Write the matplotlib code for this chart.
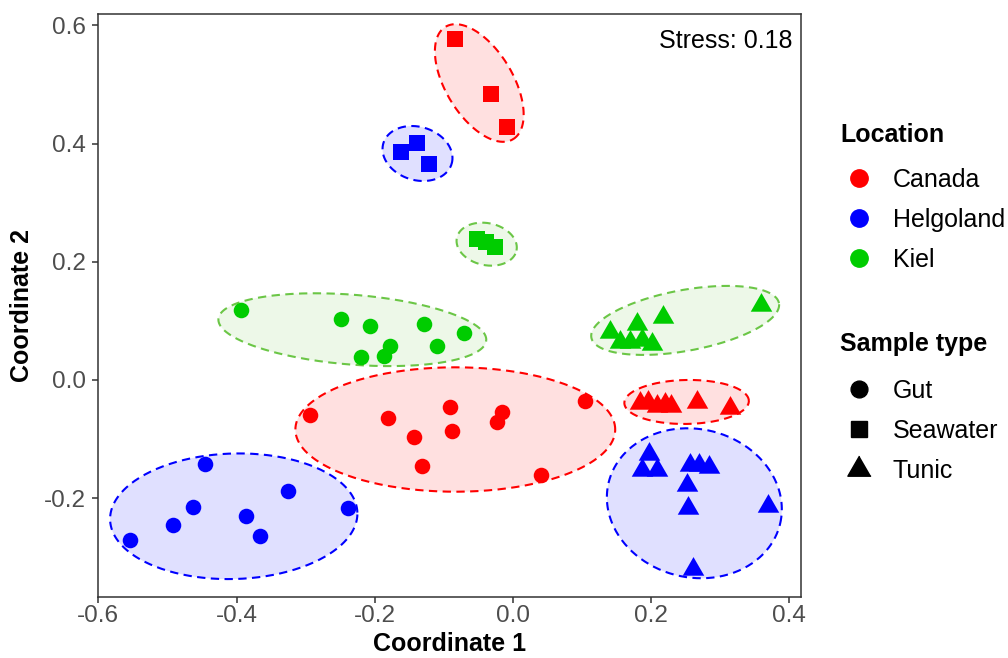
import numpy as np
import matplotlib
matplotlib.use("Agg")
import matplotlib.pyplot as plt
from matplotlib.lines import Line2D

plt.rcParams['font.family'] = ['Liberation Sans', 'DejaVu Sans']

# ---- data ----
locations = ["Canada", "Helgoland", "Kiel"]
sample_types = ["Gut", "Seawater", "Tunic"]

canada_gut_x = [-0.2936, -0.1805, -0.0910, -0.0152, -0.0237, -0.0889, -0.1427, -0.1317, 0.1048, 0.0401]
canada_gut_y = [-0.0587, -0.0638, -0.0452, -0.0547, -0.0716, -0.0863, -0.0970, -0.1450, -0.0360, -0.1602]
helgo_gut_x = [-0.4454, -0.3260, -0.4629, -0.2393, -0.3857, -0.4913, -0.3663, -0.5536]
helgo_gut_y = [-0.1421, -0.1883, -0.2144, -0.2171, -0.2301, -0.2459, -0.2635, -0.2707]
kiel_gut_x = [-0.3932, -0.2493, -0.2064, -0.1293, -0.0710, -0.1093, -0.1786, -0.1860, -0.2198]
kiel_gut_y = [0.1184, 0.1032, 0.0914, 0.0942, 0.0800, 0.0580, 0.0575, 0.0411, 0.0394]

canada_sea_x = [-0.0832, -0.0318, -0.0090]
canada_sea_y = [0.5765, 0.4839, 0.4275]
helgo_sea_x = [-0.1623, -0.1384, -0.1209]
helgo_sea_y = [0.3863, 0.4015, 0.3660]
kiel_sea_x = [-0.0518, -0.0393, -0.0253]
kiel_sea_y = [0.2381, 0.2340, 0.2245]

canada_tun_x = [0.1841, 0.1957, 0.2087, 0.2203, 0.2290, 0.2661, 0.3135]
canada_tun_y = [-0.0388, -0.0380, -0.0448, -0.0414, -0.0439, -0.0380, -0.0481]
helgo_tun_x = [0.1975, 0.1866, 0.2091, 0.2564, 0.2698, 0.2843, 0.2516, 0.2539, 0.3696, 0.2612]
helgo_tun_y = [-0.1246, -0.1527, -0.1527, -0.1443, -0.1443, -0.1471, -0.1781, -0.2160, -0.2136, -0.3200]
kiel_tun_x = [0.1407, 0.1552, 0.1696, 0.1793, 0.1866, 0.2010, 0.2178, 0.3586]
kiel_tun_y = [0.0813, 0.0639, 0.0639, 0.0953, 0.0678, 0.0610, 0.1067, 0.1265]

stress = 0.18

# group ellipses as drawn in the figure (centre in data units, semi-axes in
# x-axis data units, rotation in degrees on screen)
ell_group = [("Helgoland", "Gut"), ("Canada", "Gut"), ("Kiel", "Gut"),
             ("Canada", "Seawater"), ("Helgoland", "Seawater"), ("Kiel", "Seawater"),
             ("Canada", "Tunic"), ("Kiel", "Tunic"), ("Helgoland", "Tunic")]
ell_cx = [-0.4040, -0.0834, -0.2324, -0.0487, -0.1381, -0.0380, 0.2513, 0.2492, 0.2625]
ell_cy = [-0.2306, -0.0838, 0.0851, 0.5025, 0.3832, 0.2298, -0.0372, 0.1008, -0.2086]
ell_a = [0.1790, 0.2314, 0.1944, 0.0949, 0.0516, 0.0441, 0.0901, 0.1380, 0.1276]
ell_b = [0.0908, 0.0900, 0.0505, 0.0486, 0.0385, 0.0304, 0.0318, 0.0440, 0.1073]
ell_angle = [1.7, 0.0, -4.6, -59.0, -17.0, -12.0, 1.0, 10.4, -13.5]

point_colors = {"Canada": "#FF0000", "Helgoland": "#0000FF", "Kiel": "#00CC00"}
ring_colors = {"Canada": "#FF0000", "Helgoland": "#0000FF", "Kiel": "#6BC646"}

tri = [(0, 1), (-0.866, -0.5), (0.866, -0.5)]
markers = {"Gut": "o", "Seawater": "s", "Tunic": tri}
msizes = {"Gut": 11.2, "Seawater": 11.0, "Tunic": 17.9}

groups = [
    ("Canada", "Gut", canada_gut_x, canada_gut_y),
    ("Helgoland", "Gut", helgo_gut_x, helgo_gut_y),
    ("Kiel", "Gut", kiel_gut_x, kiel_gut_y),
    ("Canada", "Seawater", canada_sea_x, canada_sea_y),
    ("Helgoland", "Seawater", helgo_sea_x, helgo_sea_y),
    ("Kiel", "Seawater", kiel_sea_x, kiel_sea_y),
    ("Canada", "Tunic", canada_tun_x, canada_tun_y),
    ("Helgoland", "Tunic", helgo_tun_x, helgo_tun_y),
    ("Kiel", "Tunic", kiel_tun_x, kiel_tun_y),
]

W, H = 1008, 658
fig = plt.figure(figsize=(W / 100, H / 100), dpi=100)
ax = fig.add_axes([98.3 / W, 1 - 596.7 / H, 702.4 / W, 583.2 / H])
ax.set_xlim(-0.6, 0.4164)
ax.set_ylim(-0.3667, 0.6201)

# x-axis scale, used to turn the semi-axes into screen units
unit = ax.transData.transform((1, 0))[0] - ax.transData.transform((0, 0))[0]
t = np.linspace(0, 2 * np.pi, 300)
for (loc, st), cx, cy, a, b, ang in zip(ell_group, ell_cx, ell_cy, ell_a, ell_b, ell_angle):
    c = ax.transData.transform((cx, cy))
    th = np.deg2rad(ang)
    ex = a * unit * np.cos(t)
    ey = b * unit * np.sin(t)
    px = c[0] + ex * np.cos(th) - ey * np.sin(th)
    py = c[1] + ex * np.sin(th) + ey * np.cos(th)
    ed = ax.transData.inverted().transform(np.column_stack([px, py]))
    ax.fill(ed[:, 0], ed[:, 1], color=ring_colors[loc], alpha=0.12, lw=0, zorder=1)
    ax.plot(ed[:, 0], ed[:, 1], color=ring_colors[loc], lw=1.5,
            linestyle=(0, (4, 2.6)), zorder=2)

for loc, st, xs, ys in groups:
    ax.scatter(xs, ys, s=msizes[st] ** 2, marker=markers[st],
               color=point_colors[loc], linewidths=0, zorder=3)

ax.text(0.989, 0.973, f"Stress: {stress}", transform=ax.transAxes,
        ha="right", va="top", fontsize=18, color="black")

ax.set_xticks([-0.6, -0.4, -0.2, 0.0, 0.2, 0.4])
ax.set_yticks([-0.2, 0.0, 0.2, 0.4, 0.6])
ax.set_xticklabels(["-0.6", "-0.4", "-0.2", "0.0", "0.2", "0.4"])
ax.set_yticklabels(["-0.2", "0.0", "0.2", "0.4", "0.6"])
ax.tick_params(axis="both", direction="out", length=4, width=1.1,
               color="#333333", labelcolor="#4D4D4D", labelsize=17.5)
ax.tick_params(axis="x", pad=2)
ax.tick_params(axis="y", pad=5)
for sp in ax.spines.values():
    sp.set_color("#333333")
    sp.set_linewidth(1.1)

fig.text(449.5 / W, 1 - 644 / H, "Coordinate 1", ha="center", va="center",
         fontsize=18, fontweight="bold")
fig.text(22.5 / W, 1 - 305 / H, "Coordinate 2", ha="center", va="center",
         rotation=90, fontsize=18, fontweight="bold")

# ---- legends ----
def fy(py):
    return 1 - py / H

fig.text(840 / W, fy(141.7), "Location", fontsize=18, fontweight="bold", va="baseline")
for i, loc in enumerate(locations):
    base = 187.3 + 40 * i
    fig.add_artist(Line2D([859.3 / W], [fy(base - 9)], transform=fig.transFigure,
                          marker="o", markersize=12.5, color=point_colors[loc], lw=0))
    fig.text(892.7 / W, fy(base), loc, fontsize=18, va="baseline")

fig.text(840 / W, fy(351), "Sample type", fontsize=18, fontweight="bold", va="baseline")
for i, st in enumerate(sample_types):
    base = 398.3 + 40 * i
    fig.add_artist(Line2D([859.3 / W], [fy(base - 9)], transform=fig.transFigure,
                          marker=markers[st], markersize=msizes[st] * 1.08,
                          color="black", lw=0))
    fig.text(892.7 / W, fy(base), st, fontsize=18, va="baseline")

fig.savefig("out.png", dpi=100)
